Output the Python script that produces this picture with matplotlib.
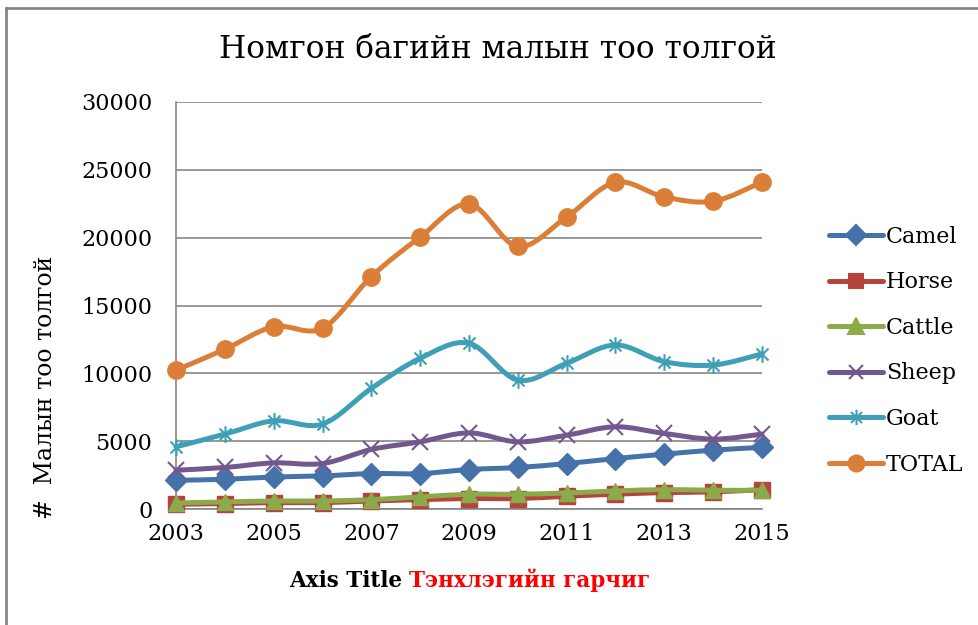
import numpy as np
import matplotlib
matplotlib.use("Agg")
import matplotlib.pyplot as plt
from matplotlib.path import Path
from matplotlib.patches import PathPatch
from matplotlib.lines import Line2D

# %% data
years = [2003, 2004, 2005, 2006, 2007, 2008, 2009, 2010, 2011, 2012, 2013, 2014, 2015]
camel = [2120, 2190, 2360, 2440, 2610, 2610, 2910, 3060, 3350, 3720, 4040, 4340, 4540]
horse = [350, 400, 470, 470, 590, 690, 770, 770, 940, 1090, 1210, 1260, 1430]
cattle = [440, 520, 590, 590, 690, 890, 1090, 1090, 1180, 1330, 1430, 1380, 1380]
sheep = [2860, 3060, 3400, 3350, 4390, 4950, 5610, 4950, 5440, 6060, 5570, 5150, 5520]
goat = [4580, 5520, 6500, 6260, 8890, 11110, 12220, 9500, 10740, 12090, 10860, 10610, 11430]
total = [10240, 11770, 13440, 13320, 17130, 20040, 22480, 19350, 21520, 24080, 23000, 22680, 24100]

names = ["Camel", "Horse", "Cattle", "Sheep", "Goat", "TOTAL"]
series = [camel, horse, cattle, sheep, goat, total]
colors = ["#4672AA", "#B5443F", "#8BAA49", "#73588F", "#3F9FB7", "#DB7F38"]

title = "Номгон багийн малын тоо толгой"
ylabel = "#  Малын тоо толгой"
xlabel_a = "Axis Title "
xlabel_b = "Тэнхлэгийн гарчиг"

# excel style star marker (x plus vertical bar)
star = Path([(0, -1), (0, 1), (-0.72, -0.72), (0.72, 0.72), (-0.72, 0.72), (0.72, -0.72)],
            [Path.MOVETO, Path.LINETO, Path.MOVETO, Path.LINETO, Path.MOVETO, Path.LINETO])
markers = ["D", "s", "^", "x", star, "o"]
msizes = [11, 11, 12, 11, 12, 12.5]
filled = [True, True, True, False, False, True]

plt.rcParams["font.family"] = ["DejaVu Serif"]


def smooth_path(x, y):
    # bezier through the points, like excel "smoothed line"
    x = np.asarray(x, float)
    y = np.asarray(y, float)
    n = len(x)
    verts = [(x[0], y[0])]
    codes = [Path.MOVETO]
    for i in range(n - 1):
        i0 = max(i - 1, 0)
        i3 = min(i + 2, n - 1)
        c1 = (x[i] + (x[i + 1] - x[i0]) / 6, y[i] + (y[i + 1] - y[i0]) / 6)
        c2 = (x[i + 1] - (x[i3] - x[i]) / 6, y[i + 1] - (y[i3] - y[i]) / 6)
        verts += [c1, c2, (x[i + 1], y[i + 1])]
        codes += [Path.CURVE4] * 3
    return Path(verts, codes)


fig = plt.figure(figsize=(9.79, 6.25), dpi=100)
ax = fig.add_axes([0.1798, 0.1856, 0.5985, 0.6512])

handles = []
for k, (name, vals, c) in enumerate(zip(names, series, colors)):
    z = 3 + k * 2
    ax.add_patch(PathPatch(smooth_path(years, vals), fill=False, edgecolor=c, lw=3.6,
                           capstyle="round", joinstyle="round", zorder=z, clip_on=False))
    if filled[k]:
        ax.plot(years, vals, linestyle="none", marker=markers[k], ms=msizes[k],
                color=c, mec=c, zorder=z + 1, clip_on=False)
    else:
        ax.plot(years, vals, linestyle="none", marker=markers[k], ms=msizes[k],
                color=c, mec=c, mew=1.5, zorder=z + 1, clip_on=False)
    handles.append(Line2D([], [], color=c, lw=3.6, marker=markers[k], ms=msizes[k] - 1,
                          mec=c, mew=1.5, solid_capstyle="round"))

ax.set_xlim(2003, 2015)
ax.set_ylim(0, 30000)
ax.set_xticks(years[::2])
ax.set_yticks(np.arange(0, 30001, 5000))
ax.tick_params(length=0, labelsize=16)
ax.tick_params(axis="y", pad=17)
ax.tick_params(axis="x", pad=10)
ax.grid(axis="y", color="#868686", lw=1.2)
ax.set_axisbelow(True)
for s in ["top", "right"]:
    ax.spines[s].set_visible(False)
for s in ["left", "bottom"]:
    ax.spines[s].set_color("#868686")
    ax.spines[s].set_linewidth(1.2)

fig.text(0.508, 0.92, title, ha="center", va="center", fontsize=22.5)
fig.text(0.046, 0.381, ylabel, ha="center", va="center", rotation=90, fontsize=17)
fig.text(0.418, 0.071, xlabel_a, ha="right", va="center", fontsize=15.5, fontweight="bold")
fig.text(0.418, 0.071, xlabel_b, ha="left", va="center", fontsize=15.5, fontweight="bold",
         color="red")

fig.legend(handles, names, loc="center left", bbox_to_anchor=(0.847, 0.439), frameon=False,
           fontsize=16, handlelength=2.4, handletextpad=0.15, labelspacing=1.06,
           borderpad=0, borderaxespad=0)

# outer chart border (only top and left visible in the crop)
fig.add_artist(Line2D([6 / 979, 6 / 979], [0, 1 - 8 / 625], color="#868686", lw=2))
fig.add_artist(Line2D([6 / 979, 1], [1 - 8 / 625, 1 - 8 / 625], color="#868686", lw=2))

fig.savefig("out.png", dpi=100)
